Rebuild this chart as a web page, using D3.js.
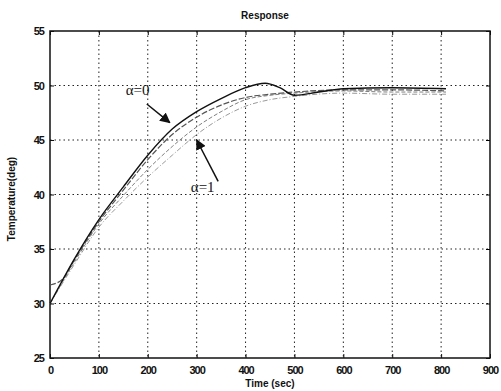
<!DOCTYPE html>
<html>
<head>
<meta charset="utf-8">
<script src="https://cdn.jsdelivr.net/npm/d3@7"></script>
<style>
  body { margin: 0; background: #fff; }
  svg text { font-family: "Liberation Sans", Arial, sans-serif; fill: #111; }
</style>
</head>
<body>
<div id="chart"></div>
<script>
// Données
const xTicks = [0, 100, 200, 300, 400, 500, 600, 700, 800, 900];
const yTicks = [25, 30, 35, 40, 45, 50, 55];

const timeA0 = [0, 50, 100, 150, 200, 250, 300, 350, 400, 440, 470, 500, 550, 600, 700, 810];
const tempA0 = [30, 34.1, 37.7, 40.7, 43.6, 46.0, 47.6, 48.8, 49.8, 50.2, 49.8, 49.1, 49.4, 49.7, 49.8, 49.7];

const timeA1 = [0, 25, 50, 100, 150, 200, 250, 300, 350, 400, 450, 500, 600, 700, 810];
const tempA1 = [31.7, 32.2, 34.0, 37.5, 40.4, 43.2, 45.5, 47.1, 48.2, 48.9, 49.2, 49.4, 49.6, 49.6, 49.5];

const timeA2 = [0, 50, 100, 150, 200, 250, 300, 350, 400, 450, 500, 600, 700, 810];
const tempA2 = [30, 33.8, 37.3, 39.9, 42.3, 44.4, 46.2, 47.6, 48.7, 49.1, 49.3, 49.5, 49.4, 49.4];

const timeA3 = [0, 50, 100, 150, 200, 250, 300, 350, 400, 450, 500, 600, 700, 810];
const tempA3 = [30, 33.6, 37.0, 39.4, 41.6, 43.6, 45.5, 47.0, 48.1, 48.7, 49.0, 49.3, 49.2, 49.2];

const series = [
    { t: timeA3, v: tempA3, color: '#9a9a9a', dash: '5,2,1,2', w: 1 },
    { t: timeA2, v: tempA2, color: '#808080', dash: '4,2', w: 1 },
    { t: timeA1, v: tempA1, color: '#555', dash: '6,2', w: 1.2 },
    { t: timeA0, v: tempA0, color: '#111', dash: null, w: 1.4 }
];

const width = 501, height = 391;
const margin = { left: 50, right: 11, top: 31, bottom: 33 };

const svg = d3.select('#chart')
    .append('svg')
    .attr('width', width)
    .attr('height', height);

const x = d3.scaleLinear().domain([0, 900]).range([margin.left, width - margin.right]);
const y = d3.scaleLinear().domain([25, 55]).range([height - margin.bottom, margin.top]);

// Grille pointillée
svg.append('g')
    .selectAll('line')
    .data(xTicks.slice(1, -1))
    .enter()
    .append('line')
    .attr('x1', d => x(d)).attr('x2', d => x(d))
    .attr('y1', y(55)).attr('y2', y(25))
    .attr('stroke', '#222')
    .attr('stroke-width', 1)
    .attr('stroke-dasharray', '1.5,3');

svg.append('g')
    .selectAll('line')
    .data(yTicks.slice(1, -1))
    .enter()
    .append('line')
    .attr('x1', x(0)).attr('x2', x(900))
    .attr('y1', d => y(d)).attr('y2', d => y(d))
    .attr('stroke', '#222')
    .attr('stroke-width', 1)
    .attr('stroke-dasharray', '1.5,3');

// Axes
const xAxis = d3.axisBottom(x).tickValues(xTicks).tickSize(-4).tickPadding(8);
const yAxis = d3.axisLeft(y).tickValues(yTicks).tickSize(-4).tickPadding(6);

const gx = svg.append('g')
    .attr('transform', `translate(0, ${y(25)})`)
    .call(xAxis);
const gy = svg.append('g')
    .attr('transform', `translate(${x(0)}, 0)`)
    .call(yAxis);

[gx, gy].forEach(g => {
    g.select('.domain').remove();
    g.selectAll('line').attr('stroke', '#111');
    g.selectAll('text')
        .style('font-size', '11px')
        .style('font-weight', 'bold')
        .style('letter-spacing', '-1px');
});

// Ticks en haut et à droite
svg.append('g')
    .attr('transform', `translate(0, ${y(55)})`)
    .call(d3.axisTop(x).tickValues(xTicks).tickSize(-4).tickFormat(''))
    .call(g => g.select('.domain').remove());
svg.append('g')
    .attr('transform', `translate(${x(900)}, 0)`)
    .call(d3.axisRight(y).tickValues(yTicks).tickSize(-4).tickFormat(''))
    .call(g => g.select('.domain').remove());

// Cadre
svg.append('rect')
    .attr('x', x(0)).attr('y', y(55))
    .attr('width', x(900) - x(0))
    .attr('height', y(25) - y(55))
    .attr('fill', 'none')
    .attr('stroke', '#111')
    .attr('stroke-width', 1.5);

// Courbes
const line = d3.line()
    .x(d => x(d[0]))
    .y(d => y(d[1]))
    .curve(d3.curveMonotoneX);

series.forEach(s => {
    svg.append('path')
        .datum(s.t.map((t, i) => [t, s.v[i]]))
        .attr('d', line)
        .attr('fill', 'none')
        .attr('stroke', s.color)
        .attr('stroke-width', s.w)
        .attr('stroke-dasharray', s.dash);
});

// Annotations
const defs = svg.append('defs');
defs.append('marker')
    .attr('id', 'arrow')
    .attr('viewBox', '0 0 10 10')
    .attr('refX', 9).attr('refY', 5)
    .attr('markerWidth', 7).attr('markerHeight', 7)
    .attr('orient', 'auto')
    .append('path')
    .attr('d', 'M0,0 L10,5 L0,10 z')
    .attr('fill', '#111');

svg.append('line')
    .attr('x1', x(198)).attr('y1', y(48.3))
    .attr('x2', x(245)).attr('y2', y(46.6))
    .attr('stroke', '#111').attr('stroke-width', 1.5)
    .attr('marker-end', 'url(#arrow)');
svg.append('text')
    .attr('x', x(155)).attr('y', y(49.1))
    .style('font-family', '"Liberation Serif", serif')
    .style('font-size', '15px')
    .text('α=0');

svg.append('line')
    .attr('x1', x(344)).attr('y1', y(41.2))
    .attr('x2', x(300)).attr('y2', y(45.0))
    .attr('stroke', '#111').attr('stroke-width', 1.5)
    .attr('marker-end', 'url(#arrow)');
svg.append('text')
    .attr('x', x(288)).attr('y', y(40.2))
    .style('font-family', '"Liberation Serif", serif')
    .style('font-size', '15px')
    .text('α=1');

// Titres
svg.append('text')
    .attr('x', 265).attr('y', 19)
    .attr('text-anchor', 'middle')
    .style('font-size', '10px')
    .style('font-weight', 'bold')
    .text('Response');

svg.append('text')
    .attr('x', 270).attr('y', 387)
    .attr('text-anchor', 'middle')
    .style('font-size', '10px')
    .style('font-weight', 'bold')
    .text('Time (sec)');

svg.append('text')
    .attr('transform', 'translate(15, 199) rotate(-90)')
    .attr('text-anchor', 'middle')
    .style('font-size', '10px')
    .style('font-weight', 'bold')
    .text('Temperature(deg)');
</script>
</body>
</html>
